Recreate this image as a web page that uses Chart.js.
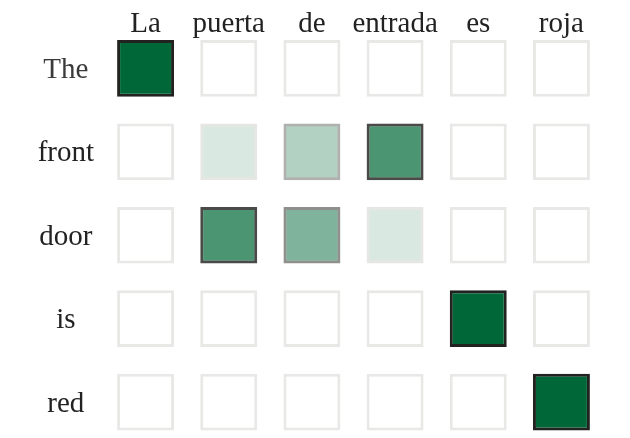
<!DOCTYPE html>
<html>
<head>
<meta charset="utf-8">
<script src="https://cdn.jsdelivr.net/npm/chart.js@4"></script>
<style>
  html, body { margin: 0; padding: 0; background: #ffffff; }
  #wrap { width: 630px; height: 438px; position: relative; }
</style>
</head>
<body>
<div id="wrap"><canvas id="c"></canvas></div>
<script>
// Source-language tokens (columns) and target tokens (rows)
const sourceTokens = ["La", "puerta", "de", "entrada", "es", "roja"];
const targetTokens = ["The", "front", "door", "is", "red"];

// Attention weights, one array per target token (row), one value per source token
const rowThe   = [1.0, 0.0,  0.0, 0.0,  0.0, 0.0];
const rowFront = [0.0, 0.15, 0.3, 0.7,  0.0, 0.0];
const rowDoor  = [0.0, 0.7,  0.5, 0.15, 0.0, 0.0];
const rowIs    = [0.0, 0.0,  0.0, 0.0,  1.0, 0.0];
const rowRed   = [0.0, 0.0,  0.0, 0.0,  0.0, 1.0];
const weights = [rowThe, rowFront, rowDoor, rowIs, rowRed];

// ---- styling helpers ----
const HALF = 0.34;             // half cell height in row units
const GREEN = [0, 104, 56];
function fillFor(v) {
  if (v <= 0) return "#ffffff";
  return `rgba(${GREEN[0]},${GREEN[1]},${GREEN[2]},${v})`;
}
const borderStops = [[0, 232], [0.15, 230], [0.3, 176], [0.5, 143], [0.7, 74], [1, 34]];
function borderFor(v) {
  for (let i = 1; i < borderStops.length; i++) {
    const [v0, g0] = borderStops[i - 1], [v1, g1] = borderStops[i];
    if (v <= v1) {
      const t = (v - v0) / (v1 - v0);
      const g = Math.round(g0 + (g1 - g0) * t);
      return `rgb(${g},${g},${Math.max(0, g - 2)})`;
    }
  }
  return "#222";
}

const datasets = weights.map((row, r) => ({
  label: targetTokens[r],
  data: row.map(() => [r - HALF, r + HALF]),
  backgroundColor: row.map(fillFor),
  borderColor: row.map(borderFor),
  borderWidth: 3,
  borderSkipped: false,
  grouped: false,
  categoryPercentage: 1,
  barPercentage: 0.685
}));

const FONT = { family: "'Liberation Serif', 'DejaVu Serif', serif", size: 29 };

new Chart(document.getElementById("c"), {
  type: "bar",
  data: { labels: sourceTokens, datasets },
  options: {
    responsive: true,
    maintainAspectRatio: false,
    animation: false,
    layout: { padding: { left: 0, right: 27, top: 0, bottom: 0 } },
    plugins: { legend: { display: false }, tooltip: { enabled: false } },
    scales: {
      x: {
        type: "category",
        position: "top",
        grid: { display: false, drawTicks: false },
        border: { display: false },
        ticks: { color: "#222", font: FONT, padding: -2, maxRotation: 0, autoSkip: false },
        afterFit: (s) => { s.height = 40; }
      },
      y: {
        type: "linear",
        reverse: true,
        min: -0.34,
        max: 4.43,
        grid: { display: false, drawTicks: false },
        border: { display: false },
        afterBuildTicks: (s) => { s.ticks = targetTokens.map((_, i) => ({ value: i })); },
        ticks: {
          color: (ctx) => (ctx.index === 0 ? "#3a3a3a" : "#222"),
          font: FONT,
          padding: 10,
          labelOffset: 2,
          crossAlign: "center",
          autoSkip: false,
          callback: (v) => targetTokens[v]
        },
        afterFit: (s) => { s.width = 104; s.paddingTop = 0; s.paddingBottom = 0; }
      }
    }
  }
});
</script>
</body>
</html>
